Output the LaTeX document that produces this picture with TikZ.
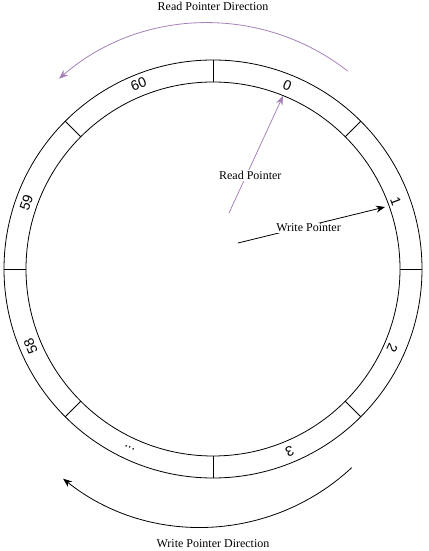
\documentclass[tikz,border=0pt]{standalone}
\usepackage{fontspec}
\setmainfont{Liberation Serif}
\newfontfamily\numfont{Liberation Sans}
\usetikzlibrary{arrows.meta}
\definecolor{rdpurple}{HTML}{A680B8}
\begin{document}
\begin{tikzpicture}[x=1pt,y=1pt,
  ring/.style={draw=black, line width=0.8pt},
  seglabel/.style={font=\numfont\fontsize{14}{14}\selectfont, inner sep=0pt},
  caption/.style={font=\fontsize{12}{14}\selectfont, inner sep=1pt},
  rdarrow/.style={draw=rdpurple, line width=0.8pt, -{Stealth[length=9pt,width=7pt]}},
  wrarrow/.style={draw=black, line width=0.8pt, -{Stealth[length=9pt,width=7pt]}}]
\useasboundingbox (0,0) rectangle (428,551);
\coordinate (c) at (213,282);
\draw[ring] (c) circle (209);
\draw[ring] (c) circle (187);
\foreach \a in {0,45,...,315}
  \draw[ring] ([shift={(\a:187)}]c) -- ([shift={(\a:209)}]c);
% segment labels
\node[seglabel, rotate=-22] (l0) at ([shift={(68:198)}]c) {0};
\node[seglabel, rotate=22] (l60) at ([shift={(112:199)}]c) {60};
\node[seglabel, rotate=-69] (l1) at ([shift={(20.4:195)}]c) {1};
\node[seglabel, rotate=-114] (l2) at ([shift={(-23.8:196)}]c) {2};
\node[seglabel, rotate=-157] (l3) at ([shift={(-67.2:198)}]c) {3};
\node[seglabel, rotate=155] (ldots) at ([shift={(245:197)}]c) {...};
\node[seglabel, rotate=113] (l58) at ([shift={(203:198)}]c) {58};
\node[seglabel, rotate=70.5] (l59) at ([shift={(160.5:198)}]c) {59};
% direction arcs
\coordinate (rc) at (208,301);
\coordinate (rs) at ([shift={(52:227)}]rc);
\draw[rdarrow] (rs) arc[start angle=52, end angle=131, radius=227];
\coordinate (wc) at (201,245);
\coordinate (ws) at ([shift={(-47:221)}]wc);
\draw[wrarrow] (ws) arc[start angle=-47, end angle=-128.6, radius=221];
\node[caption] (rdir) at (213,545) {Read Pointer Direction};
\node[caption] (wdir) at (213,7) {Write Pointer Direction};
% pointers
\coordinate (rp0) at (229,338);
\coordinate (rp1) at (283,455);
\draw[rdarrow] (rp0) -- node[caption, pos=0.32, fill=white, xshift=4pt] (rpl) {Read Pointer} (rp1);
\coordinate (wp0) at (238,308);
\coordinate (wp1) at (385,344);
\draw[wrarrow] (wp0) -- node[caption, pos=0.48, fill=white, yshift=-2pt] (wpl) {Write Pointer} (wp1);
\end{tikzpicture}
\end{document}
